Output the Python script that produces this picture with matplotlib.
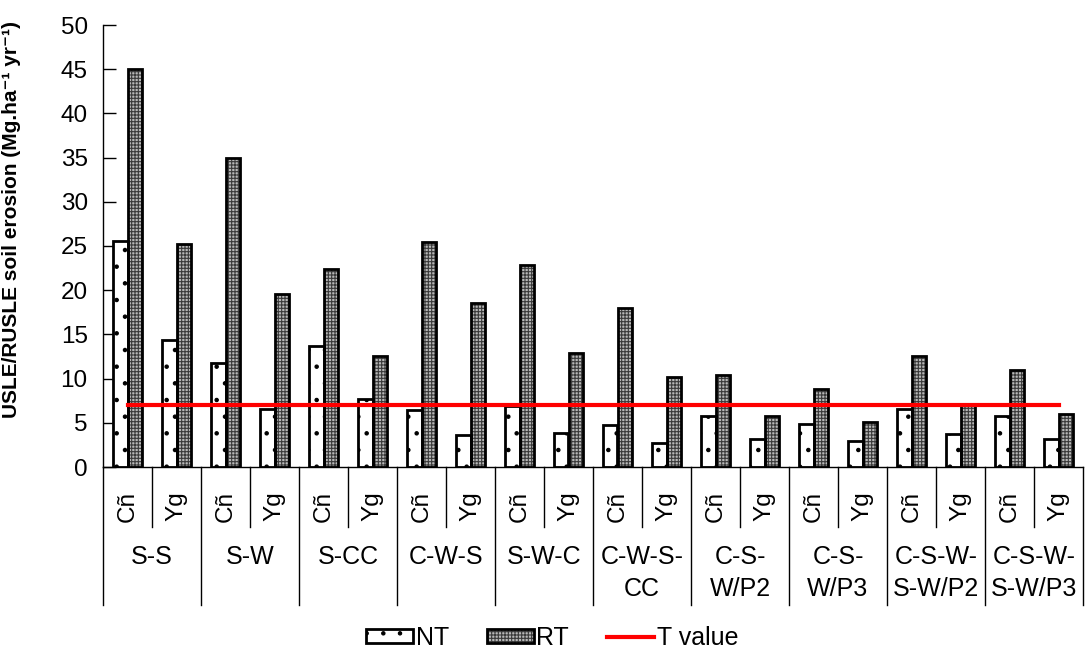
import matplotlib
matplotlib.use("Agg")
import matplotlib.pyplot as plt
from matplotlib.patches import Patch
from matplotlib.lines import Line2D
from matplotlib.legend_handler import HandlerTuple
import numpy as np

plt.rcParams['font.family'] = ['Liberation Sans', 'DejaVu Sans']
plt.rcParams['hatch.linewidth'] = 0.8

groups = ['S-S', 'S-W', 'S-CC', 'C-W-S', 'S-W-C', 'C-W-S-\nCC', 'C-S-\nW/P2',
          'C-S-\nW/P3', 'C-S-W-\nS-W/P2', 'C-S-W-\nS-W/P3']
soils = ['Cñ', 'Yg']
nt = [25.6, 14.4, 11.8, 6.6, 13.7, 7.65, 6.5, 3.6, 6.9, 3.9,
      4.75, 2.75, 5.8, 3.2, 4.9, 2.9, 6.6, 3.75, 5.8, 3.2]
rt = [45.0, 25.2, 34.9, 19.6, 22.4, 12.6, 25.5, 18.5, 22.9, 12.9,
      17.95, 10.15, 10.4, 5.8, 8.8, 5.05, 12.6, 7.0, 11.0, 6.0]
t_value = 7.0

fig = plt.figure(figsize=(10.85, 6.52), dpi=100)
ax = fig.add_axes([103/1085, 1-467/652, 980/1085, 442/652])

n = len(nt)
x = np.arange(n)
w = 0.295
rt_fill = '#b8b8b8'
rt_hatch_col = '#3a3a3a'

ax.bar(x - w/2, nt, width=w, facecolor='white', edgecolor='black', hatch='.', linewidth=0, zorder=2)
ax.bar(x - w/2, nt, width=w, fill=False, edgecolor='black', linewidth=2, zorder=3)
ax.bar(x + w/2, rt, width=w, facecolor=rt_fill, edgecolor=rt_hatch_col, hatch='+++++', linewidth=0, zorder=2)
ax.bar(x + w/2, rt, width=w, fill=False, edgecolor='black', linewidth=2, zorder=3)

ax.plot([x[0], x[-1]], [t_value, t_value], color='red', linewidth=3, zorder=4)

ax.set_xlim(-0.5, n - 0.5)
ax.set_ylim(0, 50)
ax.set_yticks(np.arange(0, 51, 5))
ax.tick_params(axis='y', direction='in', length=9, width=1, labelsize=17.5, pad=11)
ax.set_xticks([])
for s in ['top', 'right']:
    ax.spines[s].set_visible(False)
ax.spines['left'].set_linewidth(1)
ax.spines['bottom'].set_linewidth(1)

ax.set_ylabel('USLE/RUSLE soil erosion (Mg.ha\u207b\u00b9 yr\u207b\u00b9)',
              fontsize=15, fontweight='bold')
ax.yaxis.set_label_coords(-82/980, 0.56)

tr = ax.get_xaxis_transform()
ax_h = 442.0
for g in range(len(groups)):
    ax.plot([2*g + 0.5, 2*g + 0.5], [0, -60/ax_h], transform=tr, color='black', lw=1, clip_on=False)
    for k, s in enumerate(soils):
        ax.text(2*g + k, -39/ax_h, s, transform=tr, rotation=90, ha='center', va='center', fontsize=17.5)
    ax.text(2*g + 0.5, -78/ax_h, groups[g], transform=tr, ha='center', va='top',
            fontsize=18, linespacing=1.4)
for b in range(len(groups) + 1):
    ax.plot([2*b - 0.5, 2*b - 0.5], [0, -138/ax_h], transform=tr, color='black', lw=1, clip_on=False)

h_nt = (Patch(facecolor='white', edgecolor='black', hatch='.', linewidth=0),
        Patch(fill=False, edgecolor='black', linewidth=2))
h_rt = (Patch(facecolor=rt_fill, edgecolor=rt_hatch_col, hatch='+++++', linewidth=0),
        Patch(fill=False, edgecolor='black', linewidth=2))
h_t = Line2D([], [], color='red', linewidth=3)
fig.legend([h_nt, h_rt, h_t], ['NT', 'RT', 'T value'],
           handler_map={tuple: HandlerTuple(ndivide=1, pad=0)},
           loc='center', bbox_to_anchor=(552/1085, 1-638/652), ncol=3, frameon=False,
           fontsize=18, handlelength=1.9, handletextpad=0.1, columnspacing=1.5,
           handleheight=0.5)

fig.savefig('out.png', dpi=100)
